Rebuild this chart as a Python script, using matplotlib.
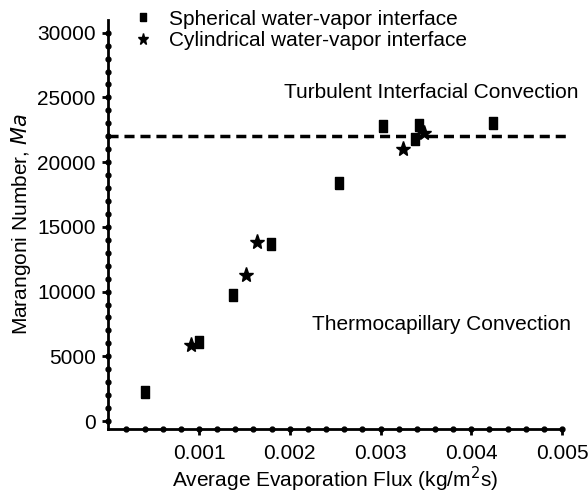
import numpy as np
import matplotlib.pyplot as plt
from matplotlib.ticker import MultipleLocator

plt.rcParams['font.family'] = ['Liberation Sans', 'DejaVu Sans']

# spherical water-vapor interface
sph_flux = [0.00041, 0.00100, 0.00137, 0.00179, 0.00254, 0.00303, 0.00338, 0.00342, 0.00424]
sph_ma = [2250, 6100, 9700, 13700, 18400, 22800, 21800, 22900, 23000]

# cylindrical water-vapor interface
cyl_flux = [0.00091, 0.00152, 0.00164, 0.00325, 0.00348]
cyl_ma = [5900, 11300, 13800, 21000, 22250]

ma_crit = 22000

rect = [(-0.36, -0.5), (0.36, -0.5), (0.36, 0.5), (-0.36, 0.5), (-0.36, -0.5)]

fig = plt.figure(figsize=(5.88, 4.94), dpi=100)
ax = fig.add_axes([0.184, 0.132, 0.772, 0.828])

ax.plot(sph_flux, sph_ma, linestyle='none', marker=rect, markersize=8,
        color='black', label='Spherical water-vapor interface')
ax.plot(cyl_flux, cyl_ma, linestyle='none', marker='*', markersize=11,
        color='black', label='Cylindrical water-vapor interface')
ax.axhline(ma_crit, xmax=1.01, color='black', lw=2.5, dashes=(2.9, 1.7), clip_on=False)

ax.set_xlim(0, 0.005)
ax.set_ylim(-600, 31000)
ax.xaxis.set_major_locator(MultipleLocator(0.001))
ax.xaxis.set_minor_locator(MultipleLocator(0.0002))
ax.yaxis.set_major_locator(MultipleLocator(5000))
ax.yaxis.set_minor_locator(MultipleLocator(1000))
ax.set_xticks([0.001, 0.002, 0.003, 0.004, 0.005])
ax.set_xticklabels(['0.001', '0.002', '0.003', '0.004', '0.005'])

for s in ['top', 'right']:
    ax.spines[s].set_visible(False)
for s in ['left', 'bottom']:
    ax.spines[s].set_linewidth(2)
ax.tick_params(which='major', direction='out', length=4, width=2, labelsize=15, pad=5)
ax.tick_params(axis='x', which='major', pad=7)
ax.tick_params(which='minor', length=0)

# dotted tick marks along the axes
xd = np.arange(0.0002, 0.00501, 0.0002)
ax.plot(xd, np.zeros_like(xd), 'o', ms=3.5, color='black', clip_on=False,
        transform=ax.get_xaxis_transform())
yd = np.arange(0, 31000, 1000)
ax.plot(np.zeros_like(yd), yd, 'o', ms=3.5, color='black', clip_on=False,
        transform=ax.get_yaxis_transform())

ax.text(0.00518, 25400, 'Turbulent Interfacial Convection', ha='right', va='center', fontsize=15)
ax.text(0.00510, 7450, 'Thermocapillary Convection', ha='right', va='center', fontsize=15)

ax.set_xlabel('Average Evaporation Flux (kg/m$^2$s)', fontsize=15, labelpad=1)
ax.set_ylabel('Marangoni Number, $\\it{Ma}$', fontsize=15, labelpad=3)

ax.legend(loc='upper left', bbox_to_anchor=(0.036, 1.045), frameon=False, fontsize=15,
          handlelength=1.0, handletextpad=0.75, labelspacing=0.12, borderaxespad=0,
          markerscale=0.75)

fig.savefig('out.png', dpi=100)
